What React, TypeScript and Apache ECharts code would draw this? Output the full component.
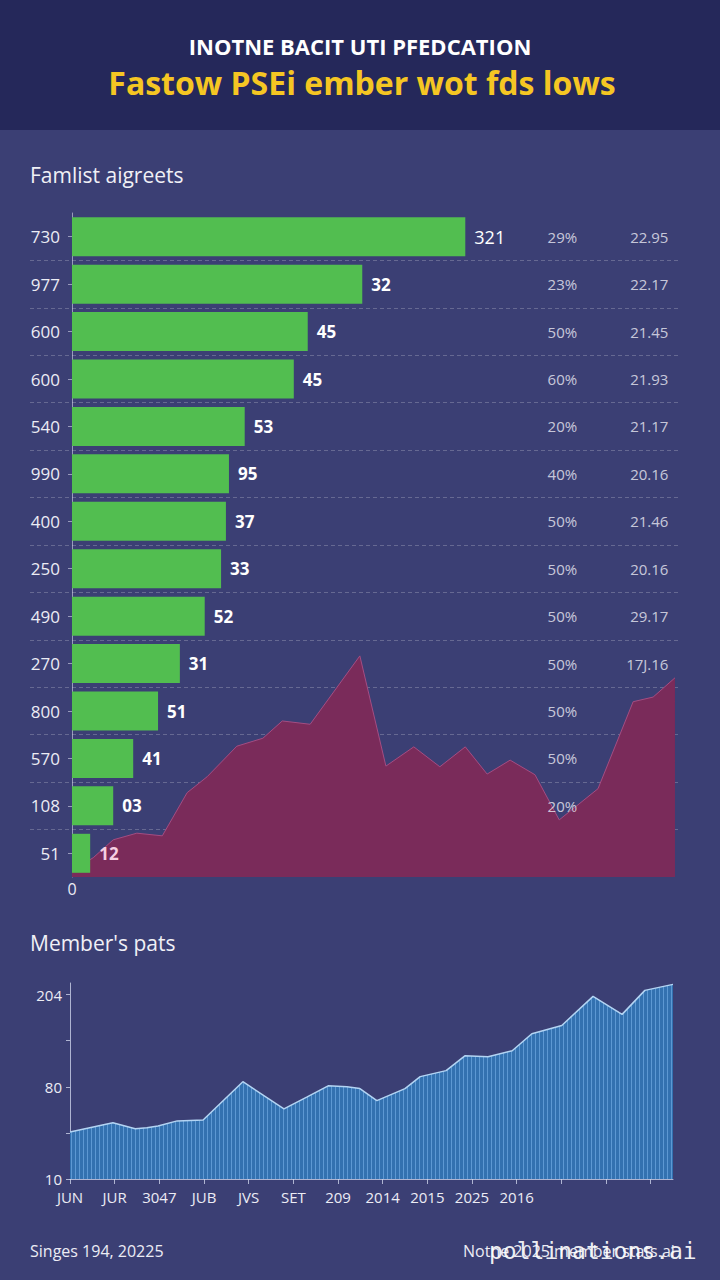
import React, { useEffect, useRef } from "react";
import * as echarts from "echarts";

// ---------- top chart data ----------
const categories = ["730", "977", "600", "600", "540", "990", "400", "250", "490", "270", "800", "570", "108", "51"];
const barValues = [64.9, 47.9, 38.9, 36.6, 28.5, 25.9, 25.4, 24.6, 21.9, 17.8, 14.2, 10.1, 6.8, 3.0];
const barLabels = ["321", "32", "45", "45", "53", "95", "37", "33", "52", "31", "51", "41", "03", "12"];
const pctLabels = ["29%", "23%", "50%", "60%", "20%", "40%", "50%", "50%", "50%", "50%", "50%", "50%", "20%", ""];
const valLabels = ["22.95", "22.17", "21.45", "21.93", "21.17", "20.16", "21.46", "20.16", "29.17", "17J.16", "19.85", "", "", ""];

// crimson area (x on 0..100 scale, y on 0..100 scale)
const crimsonX = [0, 3.5, 6.8, 10.7, 14.9, 19.0, 22.3, 27.2, 31.5, 34.7, 39.3, 47.5, 51.8, 56.4, 60.7, 64.9, 68.5, 72.3, 76.4, 80.4, 86.8, 92.6, 95.9, 99.5];
const crimsonY = [1.0, 2.9, 5.6, 6.6, 6.2, 12.7, 15.1, 19.7, 20.9, 23.5, 23.0, 33.3, 16.7, 19.6, 16.6, 19.6, 15.5, 17.6, 15.4, 8.6, 13.3, 26.4, 27.1, 30.0];

// ---------- bottom chart data ----------
const memberX = [0, 0.96, 1.46, 1.72, 1.97, 2.4, 2.98, 3.87, 4.79, 5.31, 5.78, 6.2, 6.49, 6.87, 7.5, 7.84, 8.42, 8.84, 9.36, 9.9, 10.34, 11.01, 11.71, 12.36, 12.87, 13.5];
const memberY = [1.02, 1.22, 1.09, 1.11, 1.15, 1.26, 1.28, 2.11, 1.52, 1.78, 2.02, 2.0, 1.96, 1.7, 1.96, 2.22, 2.35, 2.67, 2.65, 2.78, 3.15, 3.33, 3.96, 3.57, 4.09, 4.22];
const xTickLabels = ["JUN", "JUR", "3047", "JUB", "JVS", "SET", "209", "2014", "2015", "2025", "2016", "", "", ""];
const yTickLabels: Record<number, string> = { 0: "10", 2: "80", 4: "204" };

const FONT = '"Open Sans", "Noto Sans", sans-serif';
const TXT = "#ececf4";

export default function App() {
  const ref = useRef<HTMLDivElement>(null);

  useEffect(() => {
    document.body.style.margin = "0";
    const chart = echarts.init(ref.current!, null, { renderer: "svg" });

    const canvas = document.createElement("canvas");
    canvas.width = 4;
    canvas.height = 4;
    const ctx = canvas.getContext("2d")!;
    ctx.fillStyle = "#3371b0";
    ctx.fillRect(0, 0, 4, 4);
    ctx.fillStyle = "#5d98d3";
    ctx.fillRect(3, 0, 1, 4);

    const pctX = 78.4;
    const valX = 98.5;
    // grid for dashed row separators: all rows but the last one
    const topH = 1280 - 213 - 403;
    const sepRows = categories.slice(0, categories.length - 1);
    const sepBottom = 403 + topH / categories.length;

    const option: any = {
      animation: false,
      backgroundColor: "#3b3f74",
      textStyle: { fontFamily: FONT },
      grid: [
        { left: 72, right: 42, top: 213, bottom: 403 },
        { left: 70, right: 47, top: 983, bottom: 101 },
        { left: 30, right: 42, top: 213, bottom: sepBottom },
      ],
      xAxis: [
        {
          type: "value", gridIndex: 0, min: 0, max: 100, interval: 100,
          axisLine: { show: false }, axisTick: { show: false }, splitLine: { show: false },
          axisLabel: { color: TXT, fontSize: 16, margin: 4, formatter: (v: number) => (v === 0 ? "0" : "") },
        },
        { type: "value", gridIndex: 0, min: 0, max: 100, show: false },
        {
          type: "value", gridIndex: 1, min: 0, max: 13.5, interval: 1,
          axisLine: { show: true, lineStyle: { color: "rgba(215,220,240,0.75)", width: 1 } },
          axisTick: { show: true, length: 5, lineStyle: { color: "rgba(215,220,240,0.75)" } },
          splitLine: { show: false },
          axisLabel: {
            color: TXT, fontSize: 15, margin: 10, showMaxLabel: false,
            formatter: (v: number) => (Number.isInteger(v) ? xTickLabels[v] || "" : ""),
          },
        },
        { type: "value", gridIndex: 2, min: 0, max: 1, show: false },
      ],
      yAxis: [
        {
          type: "category", gridIndex: 0, inverse: true, data: categories,
          axisLine: { show: true, lineStyle: { color: "rgba(215,215,235,0.6)" } },
          axisTick: { show: true, length: 4, alignWithLabel: true, lineStyle: { color: "rgba(215,215,235,0.6)" } },
          splitLine: { show: false },
          axisLabel: { color: TXT, fontSize: 17, margin: 12 },
        },
        { type: "value", gridIndex: 0, min: 0, max: 100, show: false },
        {
          type: "value", gridIndex: 1, min: 0, max: 4.25, interval: 1,
          axisLine: { show: true, lineStyle: { color: "rgba(215,220,240,0.75)" } },
          axisTick: { show: true, length: 4, lineStyle: { color: "rgba(215,220,240,0.75)" } },
          splitLine: { show: false },
          axisLabel: {
            color: TXT, fontSize: 15, margin: 8, showMaxLabel: false,
            formatter: (v: number) => yTickLabels[v] ?? "",
          },
        },
        {
          type: "category", gridIndex: 2, inverse: true, data: sepRows,
          axisLine: { show: false }, axisTick: { show: false }, axisLabel: { show: false },
          splitLine: {
            show: true,
            interval: (i: number) => i > 0,
            lineStyle: { color: "rgba(255,255,255,0.22)", type: [4, 3], width: 1 },
          },
        },
      ],
      graphic: [
        { type: "rect", x: 0, y: 0, shape: { width: 720, height: 130 }, style: { fill: "#25285a" }, z: 0 },
        {
          type: "text", x: 360, y: 46, z: 2,
          style: { text: "INOTNE BACIT UTI PFEDCATION", fill: "#ffffff", font: `bold 22px ${FONT}`, textAlign: "center", textVerticalAlign: "middle" },
        },
        {
          type: "text", x: 362, y: 82, z: 2,
          style: { text: "Fastow PSEi ember wot fds lows", fill: "#f5c623", font: `bold 32px ${FONT}`, textAlign: "center", textVerticalAlign: "middle" },
        },
        {
          type: "text", x: 30, y: 175, z: 2,
          style: { text: "Famlist aigreets", fill: "#f0f0f6", font: `21px ${FONT}`, textAlign: "left", textVerticalAlign: "middle" },
        },
        {
          type: "text", x: 30, y: 943, z: 2,
          style: { text: "Member's pats", fill: "#f0f0f6", font: `21px ${FONT}`, textAlign: "left", textVerticalAlign: "middle" },
        },
        {
          type: "text", x: 30, y: 1251, z: 2,
          style: { text: "Singes 194, 20225", fill: TXT, font: `16px ${FONT}`, textAlign: "left", textVerticalAlign: "middle" },
        },
        {
          type: "text", x: 463, y: 1251, z: 2,
          style: { text: "Notne 2025 member stats.ai", fill: TXT, font: `16px ${FONT}`, textAlign: "left", textVerticalAlign: "middle" },
        },
        {
          type: "text", x: 489, y: 1251, z: 3,
          style: { text: "pollinations.ai", fill: "rgba(255,255,255,0.93)", font: `23px "DejaVu Sans Mono", monospace`, textAlign: "left", textVerticalAlign: "middle" },
        },
      ],
      series: [
        {
          name: "pct", type: "scatter", xAxisIndex: 1, yAxisIndex: 0, z: 5,
          symbolSize: 1, itemStyle: { color: "rgba(0,0,0,0)" },
          data: pctLabels.map((_, i) => [pctX, i]),
          label: {
            show: true, position: "right", distance: 0, color: TXT, fontSize: 15,
            formatter: (p: any) => pctLabels[p.dataIndex],
          },
          silent: true,
        },
        {
          name: "val", type: "scatter", xAxisIndex: 1, yAxisIndex: 0, z: 1,
          symbolSize: 1, itemStyle: { color: "rgba(0,0,0,0)" },
          data: valLabels.map((_, i) => [valX, i]),
          label: {
            show: true, position: "left", distance: 0, color: TXT, fontSize: 15,
            formatter: (p: any) => valLabels[p.dataIndex],
          },
          silent: true,
        },
        {
          name: "crimson", type: "line", xAxisIndex: 1, yAxisIndex: 1, z: 3,
          symbol: "none",
          data: crimsonX.map((x, i) => [x, crimsonY[i]]),
          lineStyle: { color: "#a44d82", width: 1 },
          areaStyle: { color: "#7a2b5a", opacity: 1 },
        },
        {
          name: "bars", type: "bar", xAxisIndex: 0, yAxisIndex: 0, z: 4,
          barWidth: 39,
          data: barValues.map((v, i) => ({
            value: v,
            label:
              i === 0
                ? { fontWeight: "normal", fontSize: 18 }
                : i === barValues.length - 1
                ? { color: "#f6cfe2" }
                : undefined,
          })),
          itemStyle: { color: "#52be50" },
          label: {
            show: true, position: "right", distance: 9, color: "#ffffff", fontSize: 17, fontWeight: "bold",
            formatter: (p: any) => barLabels[p.dataIndex],
          },
        },
        {
          name: "members", type: "line", xAxisIndex: 2, yAxisIndex: 2, z: 3,
          symbol: "none",
          data: memberX.map((x, i) => [x, memberY[i]]),
          lineStyle: { color: "#b3d4f3", width: 1.5 },
          areaStyle: { color: { image: canvas, repeat: "repeat" }, opacity: 1 },
        },
      ],
    };

    chart.setOption(option);
    return () => chart.dispose();
  }, []);

  return <div ref={ref} style={{ width: 720, height: 1280 }} />;
}
